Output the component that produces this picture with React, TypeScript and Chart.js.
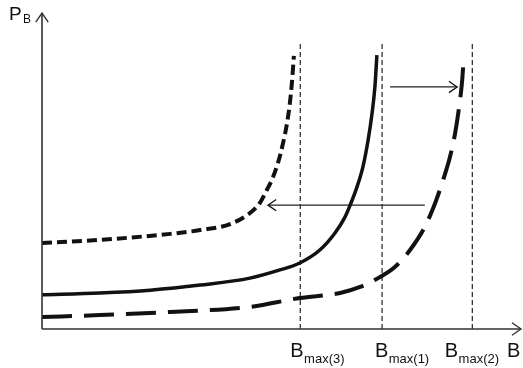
import React, { useEffect, useRef } from "react";
import { Chart, registerables } from "chart.js";

Chart.register(...registerables);

// Curve 3 (short dashes, upper)
const curve3X = [0, 1.45, 3.21, 3.96, 4.71, 5.21, 5.46, 5.59, 5.76, 5.91, 6.04, 6.14, 6.21, 6.26, 6.31];
const curve3Y = [2.72, 2.82, 3.01, 3.13, 3.32, 3.67, 3.99, 4.3, 4.72, 5.25, 5.89, 6.52, 7.15, 7.78, 8.64];
// Curve 1 (solid, middle)
const curve1X = [0, 1.45, 2.71, 3.96, 5.21, 5.96, 6.46, 6.96, 7.34, 7.59, 7.72, 7.89, 8.04, 8.17, 8.27, 8.34, 8.39];
const curve1Y = [1.08, 1.14, 1.23, 1.39, 1.61, 1.87, 2.09, 2.5, 3.04, 3.54, 3.92, 4.49, 5.13, 5.98, 6.84, 7.66, 8.67];
// Curve 2 (long dashes, lower)
const curve2X = [0, 1.45, 3.21, 5.21, 6.46, 7.47, 7.97, 8.42, 8.84, 9.22, 9.59, 9.85, 10.05, 10.22, 10.35, 10.45, 10.52, 10.57];
const curve2Y = [0.38, 0.44, 0.54, 0.7, 0.98, 1.14, 1.33, 1.61, 1.96, 2.5, 3.23, 3.99, 4.72, 5.44, 6.2, 7.03, 7.78, 8.64];

// B_max markers
const markerX = [6.47, 8.52, 10.78];
const markerTop = 9.05;
const markerSubs = ["max(3)", "max(1)", "max(2)"];
const markerLabelX = [6.22, 8.34, 10.09];

// Shift arrows: [fromX, toX, y]
const arrowLeft = [9.59, 5.66, 3.92];
const arrowRight = [8.72, 10.4, 7.66];

const X_MAX = 12;
const Y_MAX = 10;

const pts = (xs: number[], ys: number[]) => xs.map((x, i) => ({ x, y: ys[i] }));

function chevron(ctx: CanvasRenderingContext2D, x: number, y: number, angle: number, len: number) {
  const a = 0.6;
  ctx.beginPath();
  ctx.moveTo(x - len * Math.cos(angle - a), y - len * Math.sin(angle - a));
  ctx.lineTo(x, y);
  ctx.lineTo(x - len * Math.cos(angle + a), y - len * Math.sin(angle + a));
  ctx.stroke();
}

const FONT = "'Liberation Sans', Arial, sans-serif";

const overlay = {
  id: "overlay",
  afterDraw(chart: any) {
    const ctx: CanvasRenderingContext2D = chart.ctx;
    const xs = chart.scales.x;
    const ys = chart.scales.y;
    const x0 = xs.getPixelForValue(0);
    const y0 = ys.getPixelForValue(0);
    const xEnd = xs.getPixelForValue(X_MAX);
    const yTop = ys.getPixelForValue(Y_MAX);
    ctx.save();
    // axes
    ctx.strokeStyle = "#333";
    ctx.lineWidth = 1.6;
    ctx.beginPath();
    ctx.moveTo(x0, y0);
    ctx.lineTo(x0, yTop);
    ctx.moveTo(x0, y0);
    ctx.lineTo(xEnd, y0);
    ctx.stroke();
    ctx.lineWidth = 1.4;
    chevron(ctx, x0, yTop, -Math.PI / 2, 11);
    chevron(ctx, xEnd, y0, 0, 11);

    // shift arrows heads
    ctx.strokeStyle = "#111";
    ctx.lineWidth = 1.3;
    chevron(ctx, xs.getPixelForValue(arrowLeft[1]), ys.getPixelForValue(arrowLeft[2]), Math.PI, 10);
    chevron(ctx, xs.getPixelForValue(arrowRight[1]), ys.getPixelForValue(arrowRight[2]), 0, 10);

    // labels
    ctx.fillStyle = "#111";
    ctx.textBaseline = "alphabetic";
    ctx.textAlign = "left";
    ctx.font = `19px ${FONT}`;
    ctx.fillText("P", 9, 20);
    ctx.font = `12px ${FONT}`;
    ctx.fillText("B", 23, 23);

    const baseY = 357;
    markerLabelX.forEach((mx, i) => {
      const px = xs.getPixelForValue(mx);
      ctx.font = `20px ${FONT}`;
      ctx.fillText("B", px, baseY);
      const w = ctx.measureText("B").width;
      ctx.font = `13px ${FONT}`;
      ctx.fillText(markerSubs[i], px + w + 0.5, baseY + 6);
    });
    ctx.font = `20px ${FONT}`;
    ctx.fillText("B", 507, baseY);
    ctx.restore();
  },
};

export default function App() {
  const ref = useRef<HTMLCanvasElement>(null);
  useEffect(() => {
    document.body.style.margin = "0";
    const line = (data: any, dash: number[], width: number) => ({
      data,
      borderColor: "#111",
      borderWidth: width,
      borderDash: dash,
      pointRadius: 0,
      fill: false,
      showLine: true,
      cubicInterpolationMode: "monotone",
      borderCapStyle: "butt",
    });
    const straight = (data: any, dash: number[], width: number) => ({
      data,
      borderColor: "#222",
      borderWidth: width,
      borderDash: dash,
      pointRadius: 0,
      fill: false,
      showLine: true,
      tension: 0,
    });
    const datasets: any[] = [
      line(pts(curve3X, curve3Y), [10, 5], 4),
      line(pts(curve1X, curve1Y), [], 3.5),
      line(pts(curve2X, curve2Y), [30, 12], 4),
      ...markerX.map((m) => straight([{ x: m, y: 0 }, { x: m, y: markerTop }], [5, 3], 1.2)),
      straight([{ x: arrowLeft[0], y: arrowLeft[2] }, { x: arrowLeft[1], y: arrowLeft[2] }], [], 1.3),
      straight([{ x: arrowRight[0], y: arrowRight[2] }, { x: arrowRight[1], y: arrowRight[2] }], [], 1.3),
    ];
    const chart = new Chart(ref.current!, {
      type: "scatter",
      data: { datasets },
      options: {
        animation: false,
        responsive: false,
        layout: { padding: { left: 42, right: 2, top: 13, bottom: 39 } },
        plugins: { legend: { display: false }, tooltip: { enabled: false } },
        scales: {
          x: { type: "linear", min: 0, max: X_MAX, display: false },
          y: { type: "linear", min: 0, max: Y_MAX, display: false },
        },
      },
      plugins: [overlay],
    });
    return () => chart.destroy();
  }, []);
  return <canvas ref={ref} width={523} height={368} style={{ display: "block" }} />;
}
